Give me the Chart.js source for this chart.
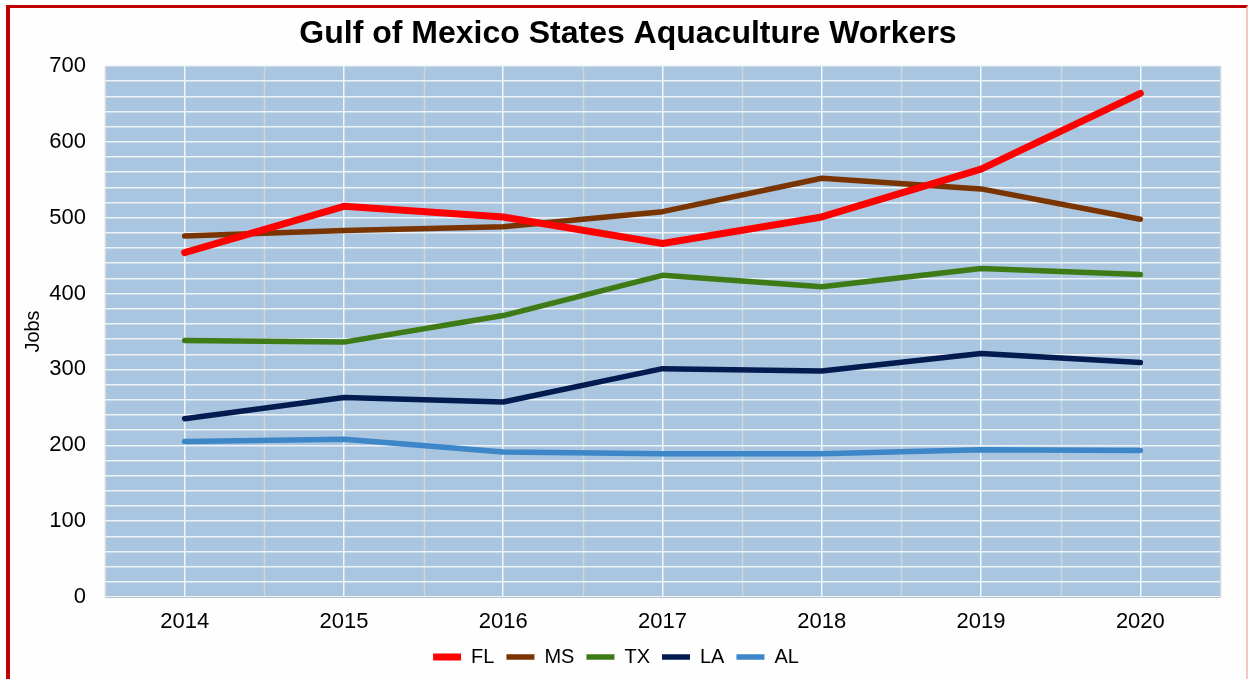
<!DOCTYPE html>
<html>
<head>
<meta charset="utf-8">
<script src="https://cdn.jsdelivr.net/npm/chart.js@4/dist/chart.umd.min.js"></script>
<style>
  html, body { margin: 0; padding: 0; background: #fefefe; overflow: hidden; }
  #frame { position: absolute; left: 6px; top: 5px; width: 1236px; height: 700px;
           border-left: 4px solid #c00000; border-top: 3px solid #c00000; border-right: 2px solid #f6c6c6; }
  #wrap { position: absolute; left: 0; top: 0; width: 1249px; height: 679px; }
</style>
</head>
<body>
<div id="frame"></div>
<div id="wrap"><canvas id="c" width="1249" height="679"></canvas></div>
<script>
const years = ['2014', '2015', '2016', '2017', '2018', '2019', '2020'];
const FL = [454, 515, 501, 466, 501, 564, 664];
const MS = [476, 483, 488, 508, 552, 538, 498];
const TX = [338, 336, 371, 424, 409, 433, 425];
const LA = [235, 263, 257, 301, 298, 321, 309];
const AL = [205, 208, 191, 189, 189, 194, 193];
const seriesNames = ['FL', 'MS', 'TX', 'LA', 'AL'];
const seriesData = [FL, MS, TX, LA, AL];
const seriesColors = ['#ff0000', '#7a3400', '#3e7b16', '#031b4f', '#3d86c8'];
const seriesWidths = [7, 5.5, 5.5, 5.5, 5.5];

const FONT = "'Liberation Sans', Arial, sans-serif";

const plotBg = {
  id: 'plotBg',
  afterLayout(chart) {
    if (chart.titleBlock) { chart.titleBlock.left += 24; }
  },
  beforeDraw(chart) {
    const { ctx, chartArea: a, scales: { x } } = chart;
    ctx.save();
    ctx.fillStyle = '#a9c5df';
    ctx.fillRect(a.left, a.top, a.right - a.left, a.bottom - a.top);
    const half = (x.getPixelForValue(1) - x.getPixelForValue(0)) / 2;
    ctx.strokeStyle = '#cfd5db';
    ctx.lineWidth = 1.5;
    for (let i = 0; i <= years.length; i++) {
      const px = Math.round(x.getPixelForValue(i) - half) + 0.5;
      ctx.beginPath();
      ctx.moveTo(px, a.top);
      ctx.lineTo(px, a.bottom);
      ctx.stroke();
    }
    ctx.restore();
  }
};

new Chart(document.getElementById('c'), {
  type: 'line',
  data: {
    labels: years,
    datasets: seriesNames.map((n, i) => ({
      label: n,
      data: seriesData[i],
      borderColor: seriesColors[i],
      backgroundColor: seriesColors[i],
      borderWidth: seriesWidths[i],
      borderCapStyle: 'round',
      borderJoinStyle: 'round',
      pointRadius: 0,
      pointHoverRadius: 0,
      tension: 0,
      fill: false
    }))
  },
  options: {
    responsive: false,
    devicePixelRatio: 1,
    animation: false,
    layout: { padding: { left: 12, right: 29, top: 0, bottom: 2 } },
    plugins: {
      title: {
        display: true,
        text: 'Gulf of Mexico States Aquaculture Workers',
        color: '#000',
        font: { family: FONT, size: 32, weight: 'bold' },
        padding: { top: 15, bottom: 12.6 }
      },
      legend: {
        display: true,
        position: 'bottom',
        labels: {
          usePointStyle: true,
          pointStyle: 'line',
          pointStyleWidth: 28,
          color: '#000',
          font: { family: FONT, size: 20 },
          padding: 12
        }
      },
      tooltip: { enabled: false }
    },
    scales: {
      x: {
        type: 'category',
        offset: true,
        grid: { offset: false, color: '#f2f6fa', lineWidth: 1.5, drawTicks: false },
        border: { display: true, color: '#b9c3cc', width: 1 },
        ticks: { color: '#000', font: { family: FONT, size: 22 }, padding: 12 },
        afterFit(scale) { scale.height = 38; }
      },
      y: {
        min: 0,
        max: 700,
        grid: { color: '#eef3f8', lineWidth: 1.5, drawTicks: false },
        border: { display: false },
        ticks: {
          stepSize: 20,
          color: '#000',
          font: { family: FONT, size: 22 },
          padding: 19,
          autoSkip: false,
          callback: (v) => (v % 100 === 0 ? String(v) : '')
        },
        title: {
          display: true,
          text: 'Jobs',
          color: '#000',
          font: { family: FONT, size: 20 },
          padding: { top: 9, bottom: 0 }
        },
        afterFit(scale) { scale.width = 93; }
      }
    }
  },
  plugins: [plotBg]
});
</script>
</body>
</html>
